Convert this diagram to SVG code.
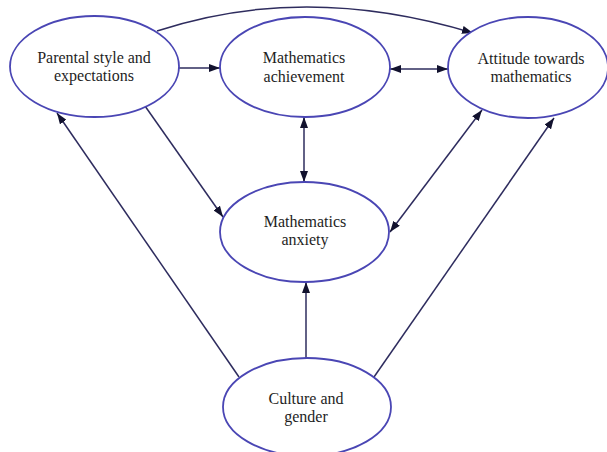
<svg xmlns="http://www.w3.org/2000/svg" width="607" height="452" viewBox="0 0 607 452">
<defs>
<style>
.node ellipse{fill:#fff;stroke:#4a46b4;stroke-width:1.8}
.node text{font-family:"Liberation Serif","Times New Roman",serif;font-size:16px;fill:#1e1e1e;text-anchor:middle}
.edge{fill:none;stroke:#2e2c5e;stroke-width:1.5}
</style>
<marker id="ah" viewBox="0 0 11 8" refX="11" refY="4" markerUnits="userSpaceOnUse" markerWidth="11" markerHeight="8" orient="auto-start-reverse">
<path d="M0,0 L11,4 L0,8 z" fill="#12122e"/>
</marker>
</defs>
<rect width="607" height="452" fill="#fff"/>
<g id="connectors">
<path class="edge" d="M157,31 Q305,-18 473,33" marker-end="url(#ah)"/>
<path class="edge" d="M179,68 L220,68" marker-end="url(#ah)"/>
<path class="edge" d="M390,69 L448,69" marker-start="url(#ah)" marker-end="url(#ah)"/>
<path class="edge" d="M304,117 L304,182" marker-start="url(#ah)" marker-end="url(#ah)"/>
<path class="edge" d="M145,106 L223,217" marker-end="url(#ah)"/>
<path class="edge" d="M482,110 L390,232" marker-start="url(#ah)" marker-end="url(#ah)"/>
<path class="edge" d="M239,377 L57,113" marker-end="url(#ah)"/>
<path class="edge" d="M306,358 L306,282" marker-end="url(#ah)"/>
<path class="edge" d="M374,377 L554,118" marker-end="url(#ah)"/>
</g>
<g id="parental" class="node">
<ellipse cx="94.5" cy="66.5" rx="84.5" ry="50.5"/>
<text x="94" y="63">Parental style and</text>
<text x="94" y="81">expectations</text>
</g>
<g id="achievement" class="node">
<ellipse cx="305" cy="67" rx="85" ry="50"/>
<text x="304" y="63">Mathematics</text>
<text x="304" y="82">achievement</text>
</g>
<g id="attitude" class="node">
<ellipse cx="528" cy="67.5" rx="80" ry="50.5"/>
<text x="531" y="64">Attitude towards</text>
<text x="531" y="82">mathematics</text>
</g>
<g id="anxiety" class="node">
<ellipse cx="304.5" cy="232" rx="84.5" ry="50"/>
<text x="305" y="227">Mathematics</text>
<text x="305" y="245">anxiety</text>
</g>
<g id="culture" class="node">
<ellipse cx="307" cy="407" rx="84" ry="49"/>
<text x="306" y="404">Culture and</text>
<text x="306" y="422">gender</text>
</g>
</svg>
